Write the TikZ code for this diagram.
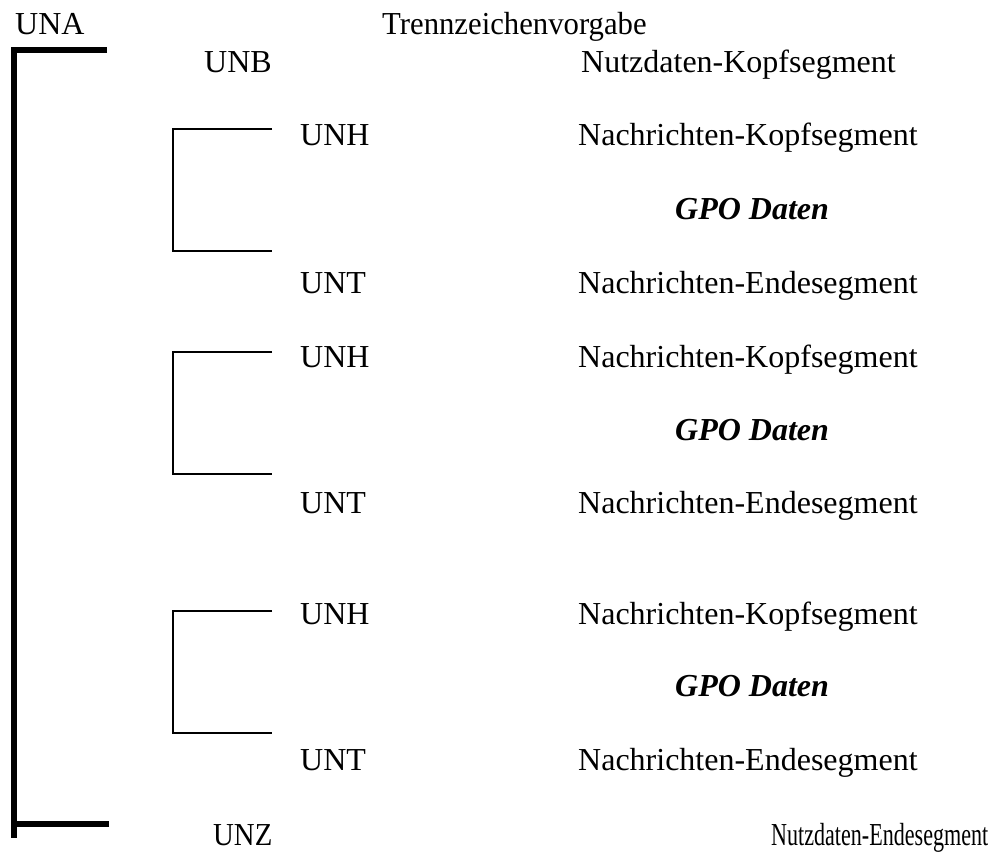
\documentclass[tikz,border=0pt]{standalone}
\usepackage{graphicx}
\usepackage{fontspec}
\setmainfont{Liberation Serif}
\begin{document}
\begin{tikzpicture}[x=1pt,y=-1pt,
  lbl/.style={anchor=base west,inner sep=0pt,font=\fontsize{32}{38}\selectfont},
  gpo/.style={lbl,font=\fontsize{32}{38}\selectfont\bfseries\itshape},
  bigbr/.style={line width=6pt},
  smallbr/.style={line width=1.5pt}]
\useasboundingbox (0,0) rectangle (995,851);
% texts
\node[lbl] (una) at (15,35) {UNA};
\node[lbl] (trenn) at (382,35) {\scalebox{0.96}[1]{Trennzeichenvorgabe}};
\node[lbl] (unb) at (204,73) {UNB};
\node[lbl] (nkopf) at (581,73) {Nutzdaten-Kopfsegment};
% group 1
\node[lbl] (unh1) at (300,145) {UNH};
\node[lbl] (nk1) at (578,145) {Nachrichten-Kopfsegment};
\node[gpo] (gpo1) at (675,219) {GPO Daten};
\node[lbl] (unt1) at (300,293) {UNT};
\node[lbl] (ne1) at (578,293) {Nachrichten-Endesegment};
% group 2
\node[lbl] (unh2) at (300,367) {UNH};
\node[lbl] (nk2) at (578,367) {Nachrichten-Kopfsegment};
\node[gpo] (gpo2) at (675,440) {GPO Daten};
\node[lbl] (unt2) at (300,513) {UNT};
\node[lbl] (ne2) at (578,513) {Nachrichten-Endesegment};
% group 3
\node[lbl] (unh3) at (300,624) {UNH};
\node[lbl] (nk3) at (578,624) {Nachrichten-Kopfsegment};
\node[gpo] (gpo3) at (675,696) {GPO Daten};
\node[lbl] (unt3) at (300,770) {UNT};
\node[lbl] (ne3) at (578,770) {Nachrichten-Endesegment};
% bottom
\node[lbl] (unz) at (213,845) {\scalebox{0.9}[1]{UNZ}};
\node[lbl] (nend) at (771,845) {\scalebox{0.69}[1]{Nutzdaten-Endesegment}};
% big bracket
\coordinate (bt) at (107,50);
\coordinate (bb) at (14,838);
\coordinate (bl) at (109,824);
\coordinate (blc) at (14,824);
\draw[bigbr] (bt) -| (bb);
\draw[bigbr] (bl) -- (blc);
% small brackets
\draw[smallbr] (272,129) -| (173,251) -- (272,251);
\draw[smallbr] (272,352) -| (173,474) -- (272,474);
\draw[smallbr] (272,611) -| (173,733) -- (272,733);
\end{tikzpicture}
\end{document}
